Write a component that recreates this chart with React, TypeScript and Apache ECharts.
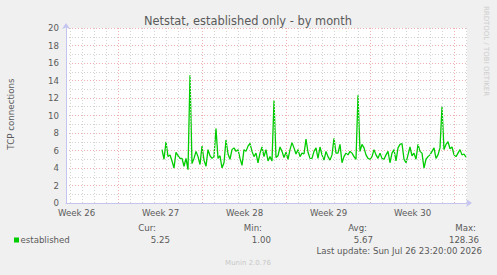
import React, { useEffect, useRef } from 'react';
import * as echarts from 'echarts';

// ---- data ----
const weekLabels = ['Week 26', 'Week 27', 'Week 28', 'Week 29', 'Week 30'];
const weekMidHours = [21, 189, 357, 525, 693];
const weekStartHours = [105, 273, 441, 609, 777];
const firstDayHour = 9;
const hoursPerDay = 24;
const axisMaxHour = 802;
const seriesStartHour = 192;
const stepHours = 4;
const established = [
  6.1, 5.0, 7.0, 5.3, 5.5, 4.8, 4.0, 5.8, 5.4, 5.1, 5.1, 4.2, 5.1, 3.8, 14.6, 4.5, 5.1, 5.9, 5.3, 4.4,
  6.5, 4.9, 4.2, 6.1, 5.4, 5.1, 5.3, 8.5, 5.1, 5.4, 4.0, 4.6, 7.2, 5.6, 5.0, 6.1, 6.3,
  5.9, 6.1, 5.1, 4.3, 6.1, 5.9, 6.5, 6.8, 5.9, 5.3, 5.7, 4.6, 5.7, 6.4, 5.3, 6.1, 4.8, 5.3, 4.8, 11.7,
  5.2, 5.4, 6.4, 5.9, 5.2, 5.8, 5.0, 6.1, 6.9, 6.3, 5.6, 6.1, 5.3, 5.7, 5.6, 7.3, 5.8, 5.1, 5.1,
  5.9, 6.3, 5.1, 6.4, 5.5, 4.9, 5.9, 5.3, 4.9, 5.5, 7.4, 5.7, 5.7, 6.7, 4.6, 5.3, 5.7, 5.5, 5.9, 5.7,
  5.3, 5.0, 12.3, 5.9, 6.7, 6.3, 5.5, 5.1, 5.0, 5.3, 6.1, 5.5, 5.1, 5.7, 5.1, 5.0, 5.5, 5.9, 4.6,
  5.7, 6.1, 4.8, 6.3, 6.7, 6.8, 5.0, 4.6, 5.5, 6.4, 5.4, 5.7, 5.0, 6.7, 5.9, 5.7, 4.0, 5.0, 5.3, 5.5,
  5.9, 6.3, 5.1, 5.5, 6.3, 11.0, 6.1, 6.7, 7.0, 6.2, 6.4, 5.5, 5.3, 5.7, 6.1, 5.5, 5.6, 5.25,
];
const seriesName = 'established';
const statHeaders = ['Cur:', 'Min:', 'Avg:', 'Max:'];
const statValues = ['5.25', '1.00', '5.67', '128.36'];
const titleText = 'Netstat, established only - by month';
const yAxisName = 'TCP connections';
const lastUpdate = 'Last update: Sun Jul 26 23:20:00 2026';
const footer = 'Munin 2.0.76';
const watermark = 'RRDTOOL / TOBI OETIKER';

// ---- layout / style ----
const FONT = '"DejaVu Sans", sans-serif';
const TEXT = '#5a5a5a';
const GREEN = '#00cc00';
const AXIS = '#c4c4f0';
const MAJOR = '#f0b0b0';
const MINOR = '#d2d2d2';
const headerRight = [156, 262, 367, 476];
const valueRight = [170, 271, 373, 479];

export default function App() {
  const ref = useRef<HTMLDivElement>(null);
  useEffect(() => {
    const chart = echarts.init(ref.current!, null, { renderer: 'svg' });
    const points = established.map((v, i) => [seriesStartHour + i * stepHours, v]);
    const gridLines: any[] = [];
    for (let h = firstDayHour; h < axisMaxHour; h += hoursPerDay) {
      if (weekStartHours.indexOf(h) === -1) gridLines.push({ xAxis: h });
    }
    weekStartHours.forEach((h) => gridLines.push({ xAxis: h, lineStyle: { color: MAJOR } }));

    const txt = (text: string, x: number, y: number, size: number, align: string, extra: any = {}) => ({
      type: 'text',
      x,
      y,
      silent: true,
      ...extra,
      style: {
        text,
        fill: extra.fill || TEXT,
        fontSize: size,
        fontFamily: FONT,
        textAlign: align,
        textVerticalAlign: 'middle',
      },
    });

    const graphics: any[] = [
      txt(titleText, 248, 21, 11.4, 'center'),
      txt(yAxisName, 11, 114, 8.7, 'center', { rotation: Math.PI / 2 }),
      txt(watermark, 486, 51, 7, 'center', { rotation: -Math.PI / 2, fill: '#cdcdcd' }),
      {
        type: 'rect',
        silent: true,
        shape: { x: 14, y: 237.5, width: 5, height: 5 },
        style: { fill: GREEN },
      },
      txt(seriesName, 20.5, 240, 8.6, 'left'),
      txt(lastUpdate, 482, 251, 8.6, 'right'),
      txt(footer, 248, 263, 7, 'center', { fill: '#c8c8c8' }),
    ];
    statHeaders.forEach((s, i) => graphics.push(txt(s, headerRight[i], 228, 8.6, 'right')));
    statValues.forEach((s, i) => graphics.push(txt(s, valueRight[i], 240, 8.6, 'right')));

    chart.setOption({
      animation: false,
      backgroundColor: '#f0f0f0',
      grid: {
        left: 66,
        top: 28,
        width: 401,
        height: 175,
        show: true,
        backgroundColor: '#ffffff',
        borderWidth: 0,
      },
      xAxis: {
        type: 'value',
        min: 0,
        max: axisMaxHour,
        axisLine: {
          show: true,
          lineStyle: { color: AXIS, width: 1 },
          symbol: ['none', 'arrow'],
          symbolSize: [6, 6],
          symbolOffset: [0, 5],
        },
        axisTick: { show: false },
        splitLine: { show: false },
        axisLabel: {
          customValues: weekMidHours,
          formatter: (v: number) => {
            const i = weekMidHours.indexOf(v);
            return i >= 0 ? weekLabels[i] : '';
          },
          color: TEXT,
          fontFamily: FONT,
          fontSize: 8.6,
          margin: 5,
        },
      },
      yAxis: {
        type: 'value',
        min: 0,
        max: 20,
        interval: 1,
        axisLine: {
          show: true,
          lineStyle: { color: AXIS, width: 1 },
          symbol: ['none', 'arrow'],
          symbolSize: [6, 6],
          symbolOffset: [0, 5],
        },
        axisTick: { show: false },
        axisLabel: {
          formatter: (v: number) => (v % 2 === 0 ? String(v) : ''),
          color: TEXT,
          fontFamily: FONT,
          fontSize: 8.6,
          margin: 7,
        },
        splitLine: {
          show: true,
          lineStyle: { color: [MAJOR, MINOR], type: [1, 2], width: 1 },
        },
      },
      series: [
        {
          type: 'line',
          name: 'grid',
          data: [],
          silent: true,
          z: 1,
          markLine: {
            silent: true,
            animation: false,
            symbol: ['none', 'none'],
            label: { show: false },
            lineStyle: { type: [1, 2], width: 1, color: MINOR },
            data: gridLines,
          },
        },
        {
          type: 'line',
          name: seriesName,
          data: points,
          showSymbol: false,
          z: 3,
          lineStyle: { color: GREEN, width: 1.3 },
          itemStyle: { color: GREEN },
        },
      ],
      graphic: graphics,
    });
    return () => chart.dispose();
  }, []);
  return <div ref={ref} style={{ position: 'fixed', left: 0, top: 0, width: 497, height: 275 }} />;
}
